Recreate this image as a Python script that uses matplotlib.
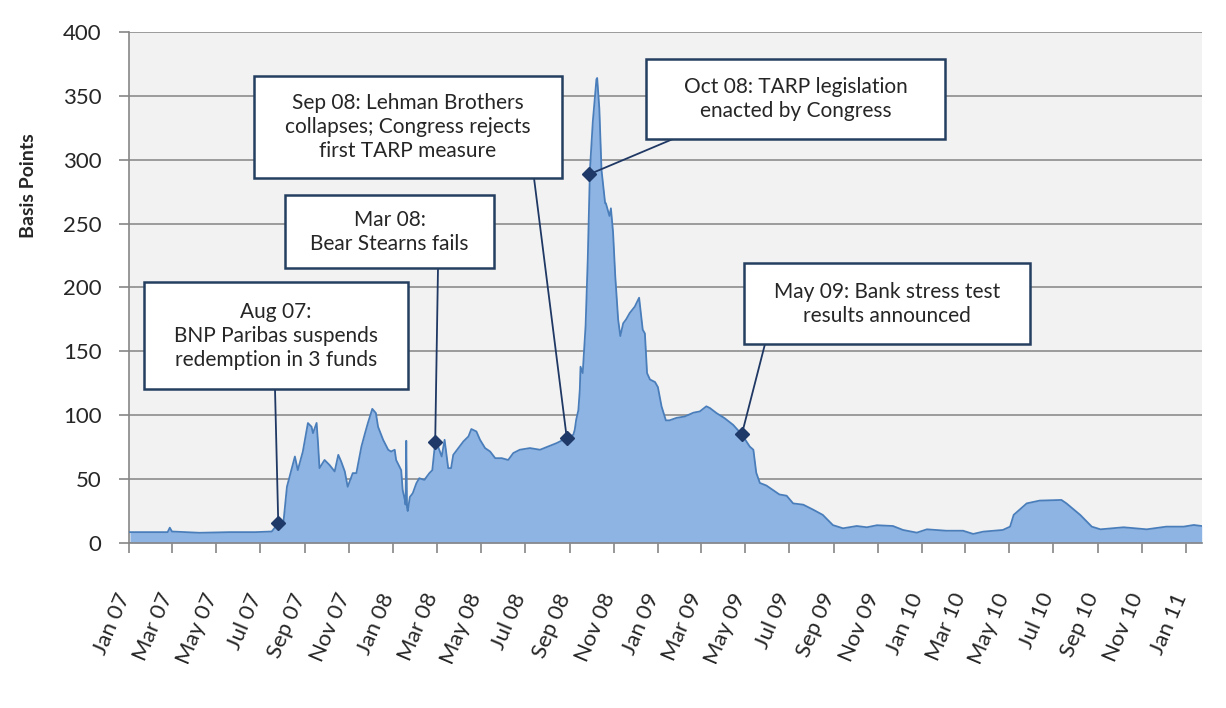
import pandas as pd
import matplotlib.pyplot as plt
import matplotlib.dates as mdates
import matplotlib.transforms as mtransforms
from matplotlib.patches import Rectangle

# spread in basis points
dates = ['2007-01-02', '2007-01-29', '2007-02-23', '2007-02-26', '2007-03-01', '2007-04-08',
         '2007-05-20', '2007-06-24', '2007-07-17', '2007-07-26', '2007-08-02', '2007-08-07',
         '2007-08-13', '2007-08-18', '2007-08-22', '2007-08-29', '2007-09-05', '2007-09-10',
         '2007-09-12', '2007-09-17', '2007-09-19', '2007-09-21', '2007-09-28', '2007-10-05',
         '2007-10-12', '2007-10-17', '2007-10-21', '2007-10-26', '2007-10-30', '2007-11-06',
         '2007-11-11', '2007-11-18', '2007-11-23', '2007-11-27', '2007-12-03', '2007-12-08',
         '2007-12-11', '2007-12-18', '2007-12-25', '2007-12-29', '2008-01-03', '2008-01-05',
         '2008-01-12', '2008-01-14', '2008-01-17', '2008-01-18', '2008-01-19', '2008-01-20',
         '2008-01-21', '2008-01-24', '2008-01-28', '2008-02-02', '2008-02-06', '2008-02-13',
         '2008-02-20', '2008-02-24', '2008-02-28', '2008-03-03', '2008-03-08', '2008-03-12',
         '2008-03-17', '2008-03-21', '2008-03-24', '2008-03-31', '2008-04-07', '2008-04-14',
         '2008-04-18', '2008-04-25', '2008-04-30', '2008-05-07', '2008-05-14', '2008-05-21',
         '2008-05-30', '2008-06-08', '2008-06-15', '2008-06-24', '2008-07-08', '2008-07-22',
         '2008-08-02', '2008-08-14', '2008-08-28', '2008-09-06', '2008-09-08', '2008-09-10',
         '2008-09-13', '2008-09-15', '2008-09-16', '2008-09-19', '2008-09-23', '2008-09-26',
         '2008-09-29', '2008-10-03', '2008-10-08', '2008-10-09', '2008-10-12', '2008-10-15',
         '2008-10-20', '2008-10-21', '2008-10-26', '2008-10-28', '2008-10-31', '2008-11-03',
         '2008-11-07', '2008-11-10', '2008-11-14', '2008-11-18', '2008-11-23', '2008-11-30',
         '2008-12-06', '2008-12-09', '2008-12-11', '2008-12-14', '2008-12-17', '2008-12-21',
         '2008-12-28', '2009-01-01', '2009-01-06', '2009-01-12', '2009-01-17', '2009-01-27',
         '2009-02-07', '2009-02-19', '2009-02-28', '2009-03-09', '2009-03-14', '2009-03-23',
         '2009-04-03', '2009-04-15', '2009-04-27', '2009-05-08', '2009-05-13', '2009-05-17',
         '2009-05-22', '2009-05-31', '2009-06-18', '2009-06-28', '2009-07-07', '2009-07-21',
         '2009-08-04', '2009-08-17', '2009-08-31', '2009-09-14', '2009-10-03', '2009-10-17',
         '2009-10-31', '2009-11-22', '2009-12-06', '2009-12-25', '2010-01-08', '2010-02-04',
         '2010-02-27', '2010-03-13', '2010-03-27', '2010-04-23', '2010-05-03', '2010-05-08',
         '2010-05-26', '2010-06-13', '2010-07-13', '2010-07-20', '2010-08-08', '2010-08-24',
         '2010-09-05', '2010-10-07', '2010-11-08', '2010-12-05', '2010-12-29', '2011-01-12',
         '2011-01-23']
spread = [8.5, 8.5, 8.5, 12, 9, 8,
          8.5, 8.5, 9, 15.4, 15.4, 44,
          57, 67.7, 57, 71.6, 93.9, 91,
          86, 94, 78, 58.6, 65, 61,
          56, 69, 63.8, 56, 44, 54.7,
          54.7, 75.5, 86, 94, 105, 101.7,
          91, 80.8, 73, 71.6, 73, 65,
          57, 41.6, 33.7, 30, 80, 28,
          25, 36, 39, 46.8, 50.7, 49.4,
          54.7, 57, 78.7, 75.5, 67.7, 80.8,
          58.6, 58.6, 69, 74.3, 79.5, 83.4,
          89.2, 87.3, 80.8, 74.3, 71.6, 66.4,
          66.4, 65, 70.4, 73, 74.3, 73,
          75.5, 78.2, 82.1, 84.7, 88.6, 96.5,
          104, 120, 138, 133, 170, 222,
          292, 330, 363, 364, 340, 292,
          266, 266, 256, 262, 243, 209,
          175, 162, 172, 175, 180, 185,
          192, 177, 167, 164, 133, 128,
          126, 122, 107, 96, 96, 98,
          99, 102, 103, 107, 105.6, 101.7,
          97.8, 92.5, 85, 75.5, 73, 55,
          47, 45, 38, 37, 31, 30,
          26, 22, 14, 11.5, 13.3, 12.3,
          13.9, 13.3, 10.2, 8.1, 10.7, 9.6,
          9.6, 7.1, 8.9, 10.2, 12.8, 22,
          31, 33.2, 33.7, 31, 22, 12.8,
          10.7, 12.3, 10.7, 12.8, 12.8, 14.1,
          13.3]

# events marked on the chart
event_dates = ['2007-07-26', '2008-02-28', '2008-08-28', '2008-09-28', '2009-04-27']
event_values = [15.4, 78.7, 82.1, 288.6, 85]
event_labels = ['Aug 07:\nBNP Paribas suspends\nredemption in 3 funds',
                'Mar 08:\nBear Stearns fails',
                'Sep 08: Lehman Brothers\ncollapses; Congress rejects\nfirst TARP measure',
                'Oct 08: TARP legislation\nenacted by Congress',
                'May 09: Bank stress test\nresults announced']
# box left, top, right, bottom and line start, in image pixels
boxes = [(144, 282, 408, 389), (285, 195, 494, 268), (254, 76, 562, 178),
         (646, 59, 945, 139), (744, 263, 1030, 344)]
line_start = [(275, 389), (438, 268), (534, 178), (673, 139), (765, 344)]

W, H = 1226, 708
fig = plt.figure(figsize=(W / 100, H / 100), dpi=100)
ax = fig.add_axes([129.3 / W, 1 - 543 / H, (1201.7 - 129.3) / W, (543 - 32) / H])
ax.set_facecolor('#f2f2f2')

x = pd.to_datetime(dates)
ax.fill_between(x, spread, color='#8eb4e3', lw=0, zorder=2)
ax.plot(x, spread, color='#4a7ebb', lw=1.3, zorder=3)

ex = pd.to_datetime(event_dates)
ax.plot(ex, event_values, 'D', color='#1f3a68', markersize=7, zorder=5)
for i in range(len(event_labels)):
    sx, sy = line_start[i]
    ax.annotate('', xy=(ex[i], event_values[i]), xytext=(sx, H - sy),
                textcoords='figure pixels', annotation_clip=False,
                arrowprops=dict(arrowstyle='-', color='#1f3864', lw=1.3,
                                shrinkA=0, shrinkB=0), zorder=4)

ax.set_ylim(0, 400)
ax.set_yticks(range(0, 401, 50))
ax.set_xlim(pd.Timestamp('2007-01-01'), pd.Timestamp('2011-01-23'))
ax.xaxis.set_major_locator(mdates.MonthLocator(bymonth=[1, 3, 5, 7, 9, 11]))
ax.xaxis.set_major_formatter(mdates.DateFormatter('%b %y'))
ax.grid(axis='y', color='#8c8c8c', lw=1.2, zorder=1)
ax.set_axisbelow(True)
for s in ['top', 'right']:
    ax.spines[s].set_visible(False)
for s in ['left', 'bottom']:
    ax.spines[s].set_color('#868686')
    ax.spines[s].set_linewidth(1.2)
ax.tick_params(axis='y', length=7, width=1.2, color='#868686', pad=13, labelsize=16)
ax.tick_params(axis='x', length=7, width=1.2, color='#868686', pad=27, labelsize=16)
shift = mtransforms.ScaledTranslation(0.05, 0, fig.dpi_scale_trans)
for lab in ax.get_yticklabels() + ax.get_xticklabels():
    lab.set_family('Lato')
    lab.set_color('#262626')
for lab in ax.get_xticklabels():
    lab.set_rotation(67)
    lab.set_ha('right')
    lab.set_transform(lab.get_transform() + shift)

fig.text(28 / W, 1 - 186 / H, 'Basis Points', rotation=90, ha='center', va='center',
         fontsize=14, fontweight='bold', family='Lato', color='#262626')

for i in range(len(event_labels)):
    l, t, r, b = boxes[i]
    fig.add_artist(Rectangle((l / W, 1 - b / H), (r - l) / W, (b - t) / H,
                             transform=fig.transFigure, facecolor='white',
                             edgecolor='#243f60', lw=1.8, zorder=5))
    fig.text((l + r) / 2 / W, 1 - (t + b) / 2 / H, event_labels[i], ha='center',
             va='center', fontsize=15, family='Lato', color='#262626',
             linespacing=1.25, zorder=6)

fig.savefig('out.png', dpi=100)
